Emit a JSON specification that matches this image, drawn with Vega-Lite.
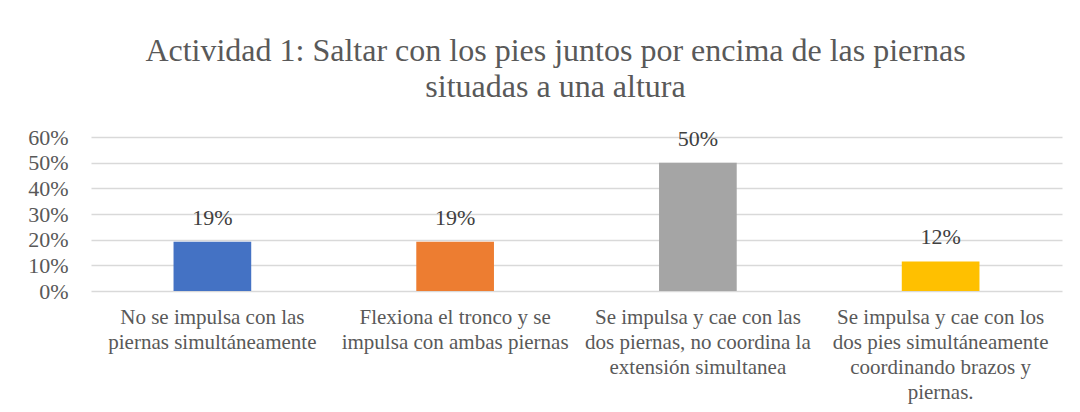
{
  "$schema": "https://vega.github.io/schema/vega-lite/v6.json",
  "autosize": "none",
  "width": 971,
  "height": 154,
  "padding": {"left": 91, "top": 137, "right": 18, "bottom": 121},
  "background": "white",
  "title": {
    "text": ["Actividad 1: Saltar con los pies juntos por encima de las piernas", "situadas a una altura"],
    "anchor": "middle",
    "frame": "group",
    "dx": -21,
    "offset": 22,
    "font": "Liberation Serif",
    "fontSize": 32,
    "fontWeight": "normal",
    "color": "#595959",
    "lineHeight": 36
  },
  "data": {
    "values": [
      {"cat": "No se impulsa con las\npiernas simultáneamente", "pct": 0.1923, "lab": "19%"},
      {"cat": "Flexiona el tronco y se\nimpulsa con ambas piernas", "pct": 0.1923, "lab": "19%"},
      {"cat": "Se impulsa y cae con las\ndos piernas, no coordina la\nextensión simultanea", "pct": 0.5, "lab": "50%"},
      {"cat": "Se impulsa y cae con los\ndos pies simultáneamente\ncoordinando brazos y\npiernas.", "pct": 0.1154, "lab": "12%"}
    ]
  },
  "encoding": {
    "x": {
      "field": "cat",
      "type": "nominal",
      "sort": null,
      "scale": {"paddingInner": 0.68, "paddingOuter": 0.34},
      "axis": {
        "title": null,
        "labelAngle": 0,
        "labelExpr": "split(datum.value, '\\n')",
        "labelFont": "Liberation Serif",
        "labelFontSize": 21,
        "labelLineHeight": 25,
        "labelColor": "#595959",
        "labelPadding": 15,
        "labelLimit": 400,
        "domain": false,
        "ticks": false
      }
    },
    "y": {
      "field": "pct",
      "type": "quantitative",
      "scale": {"domain": [0, 0.6], "nice": false},
      "axis": {
        "title": null,
        "values": [0, 0.1, 0.2, 0.3, 0.4, 0.5, 0.6],
        "format": ".0%",
        "labelFont": "Liberation Serif",
        "labelFontSize": 22,
        "labelColor": "#595959",
        "labelPadding": 23,
        "domain": false,
        "ticks": false,
        "gridColor": "#D9D9D9",
        "gridWidth": 1.3
      }
    }
  },
  "layer": [
    {
      "mark": {"type": "bar"},
      "encoding": {
        "color": {
          "field": "cat",
          "type": "nominal",
          "sort": null,
          "scale": {"range": ["#4472C4", "#ED7D31", "#A5A5A5", "#FFC000"]},
          "legend": null
        }
      }
    },
    {
      "mark": {"type": "text", "dy": -17, "baseline": "alphabetic", "font": "Liberation Serif", "fontSize": 22, "color": "#404040"},
      "encoding": {"text": {"field": "lab"}}
    }
  ],
  "config": {"view": {"stroke": null}}
}
